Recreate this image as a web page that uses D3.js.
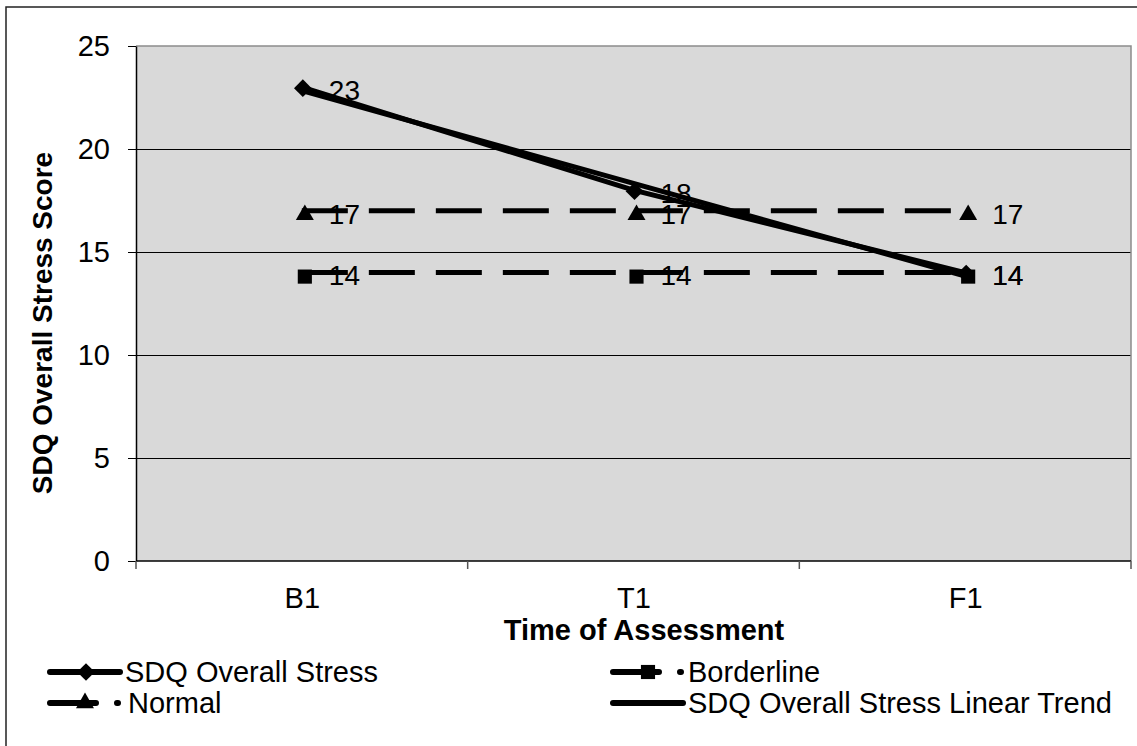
<!DOCTYPE html>
<html>
<head>
<meta charset="utf-8">
<script src="https://cdn.jsdelivr.net/npm/d3@7"></script>
<style>
  body { margin: 0; background: #fff; }
  text { font-family: "Liberation Sans", Arial, sans-serif; fill: #000; }
</style>
</head>
<body>
<svg id="chart" width="1137" height="746"></svg>
<script>
// chart data
var categories = ["B1", "T1", "F1"]
var stressValues = [23, 18, 14]
var normalValues = [17, 17, 17]
var borderlineValues = [14, 14, 14]
var yTicks = [0, 5, 10, 15, 20, 25]
var legendLabels = ["SDQ Overall Stress", "Normal", "Borderline", "SDQ Overall Stress Linear Trend"]

// least squares trend of the stress series
function linearTrend(vals) {
  var mx = d3.mean(vals, function (d, i) { return i })
  var my = d3.mean(vals)
  var sxy = d3.sum(vals, function (d, i) { return (i - mx) * (d - my) })
  var sxx = d3.sum(vals, function (d, i) { return (i - mx) * (i - mx) })
  var b = sxy / sxx
  var a = my - b * mx
  return vals.map(function (d, i) { return a + b * i })
}
var trendValues = linearTrend(stressValues)

var margin = { top: 46, left: 136 }
var width = 1131 - margin.left
var height = 561 - margin.top

var svg = d3.select("#chart")

// outer frame (only the left and top edges show)
svg.append("rect")
  .attr("x", 6).attr("y", 7)
  .attr("width", 1200).attr("height", 800)
  .attr("fill", "none").attr("stroke", "#222").attr("stroke-width", 1.5)

var g = svg.append("g").attr("transform", "translate(" + margin.left + "," + margin.top + ")")

var xBand = d3.scaleBand().domain(categories).range([0, width])
var x = d3.scalePoint().domain(categories).range([0, width]).padding(0.5)
var y = d3.scaleLinear().domain([0, 25]).range([height, 0])

g.append("rect")
  .attr("width", width).attr("height", height)
  .attr("fill", "#d9d9d9")

// gridlines
g.selectAll(".grid")
  .data(yTicks.filter(function (d) { return d > 0 && d < 25 }))
  .enter().append("line")
  .attr("x1", 0).attr("x2", width)
  .attr("y1", function (d) { return y(d) + 0.5 }).attr("y2", function (d) { return y(d) + 0.5 })
  .attr("stroke", "#000").attr("stroke-width", 1)

// top and right plot border
g.append("path")
  .attr("d", "M0," + y(25) + "H" + width + "V" + height)
  .attr("fill", "none").attr("stroke", "#8c8c8c").attr("stroke-width", 1.5)

// y axis
var yAxis = g.append("g")
  .call(d3.axisLeft(y).tickValues(yTicks).tickSize(8).tickSizeOuter(0).tickPadding(18))
yAxis.select(".domain").attr("stroke", "#000").attr("stroke-width", 1.5)
yAxis.selectAll("text").style("font-size", "29px").style("font-family", "Liberation Sans, Arial, sans-serif")

// x axis
var xAxis = g.append("g").attr("transform", "translate(0," + height + ")")
  .call(d3.axisBottom(x).tickSize(0).tickPadding(26))
xAxis.select(".domain").remove()
xAxis.selectAll("text").style("font-size", "29px").style("font-family", "Liberation Sans, Arial, sans-serif")
g.append("line")
  .attr("x1", 0).attr("x2", width)
  .attr("y1", height).attr("y2", height)
  .attr("stroke", "#000").attr("stroke-width", 1.5)
var bounds = categories.map(function (c) { return xBand(c) }).concat([width])
g.selectAll(".xtick")
  .data(bounds)
  .enter().append("line")
  .attr("x1", function (d) { return d }).attr("x2", function (d) { return d })
  .attr("y1", height).attr("y2", height + 8)
  .attr("stroke", "#555").attr("stroke-width", 1.5)

// axis titles
svg.append("text")
  .attr("x", 644).attr("y", 640)
  .attr("text-anchor", "middle")
  .style("font-size", "29px").style("font-weight", "bold")
  .text("Time of Assessment")
svg.append("text")
  .attr("transform", "translate(52," + 323 + ") rotate(-90)")
  .attr("text-anchor", "middle")
  .style("font-size", "28px").style("font-weight", "bold")
  .text("SDQ Overall Stress Score")

var line = d3.line()
  .x(function (d, i) { return x(categories[i]) })
  .y(function (d) { return y(d) })

// markers
var diamond = d3.symbol().type(d3.symbolDiamond2).size(200)
var triangle = d3.symbol().type(d3.symbolTriangle).size(140)
var square = d3.symbol().type(d3.symbolSquare).size(200)

function drawSeries(vals, dash, sym, off) {
  var s = g.append("g")
  s.append("path")
    .attr("d", line(vals))
    .attr("fill", "none").attr("stroke", "#000").attr("stroke-width", 5)
    .attr("stroke-dasharray", dash)
  s.selectAll(".mk")
    .data(vals)
    .enter().append("path")
    .attr("d", sym)
    .attr("transform", function (d, i) {
      return "translate(" + (x(categories[i]) + off[0]) + "," + (y(d) + off[1]) + ")"
    })
    .attr("fill", "#000")
  s.selectAll(".lbl")
    .data(vals)
    .enter().append("text")
    .attr("x", function (d, i) { return x(categories[i]) + 27 })
    .attr("y", function (d) { return y(d) + 3 })
    .attr("dy", "0.35em")
    .style("font-size", "28px")
    .text(function (d) { return d })
}

drawSeries(normalValues, "46,21", triangle, [3, 4])
drawSeries(borderlineValues, "46,21", square, [3, 4])

// trend line
g.append("path")
  .attr("d", line(trendValues))
  .attr("fill", "none").attr("stroke", "#000").attr("stroke-width", 5)

drawSeries(stressValues, null, diamond, [1, 1])

// legend
var legendItems = [
  { label: legendLabels[0], x: 50, y: 672, dash: null, sym: diamond, mx: 36, len: 70, tx: 75 },
  { label: legendLabels[1], x: 50, y: 703, dash: "46,21", sym: triangle, mx: 35, len: 68, tx: 78 },
  { label: legendLabels[2], x: 613, y: 672, dash: "46,21", sym: square, mx: 35, len: 68, tx: 75 },
  { label: legendLabels[3], x: 613, y: 703, dash: null, sym: null, mx: 0, len: 70, tx: 75 }
]
var lg = svg.selectAll(".legend")
  .data(legendItems)
  .enter().append("g")
  .attr("transform", function (d) { return "translate(" + d.x + "," + d.y + ")" })
lg.append("line")
  .attr("x1", 0).attr("x2", function (d) { return d.len })
  .attr("stroke", "#000").attr("stroke-width", 6)
  .attr("stroke-linecap", "round")
  .attr("stroke-dasharray", function (d) { return d.dash })
lg.filter(function (d) { return d.sym })
  .append("path")
  .attr("d", function (d) { return d.sym() })
  .attr("transform", function (d) { return "translate(" + d.mx + ",0)" })
  .attr("fill", "#000")
lg.append("text")
  .attr("x", function (d) { return d.tx })
  .attr("dy", "0.35em")
  .style("font-size", "29px")
  .text(function (d) { return d.label })
</script>
</body>
</html>
